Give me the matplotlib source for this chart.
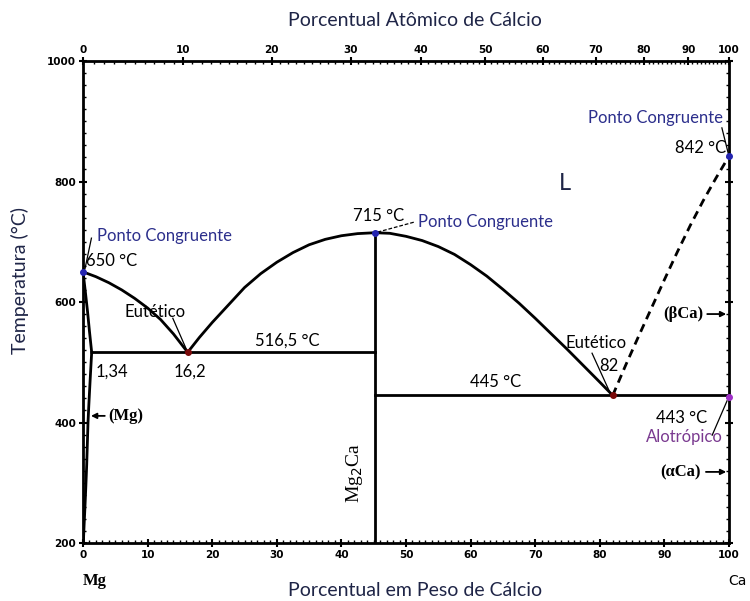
import numpy as np
import matplotlib.pyplot as plt
from matplotlib.ticker import MultipleLocator, FixedLocator

# Mg-Ca phase diagram (weight % Ca vs temperature)
liq_left_x = [0, 2, 4, 6, 8, 10, 12, 14, 16.2]
liq_left_t = [650, 642, 632, 620, 606, 590, 571, 547, 516.5]
liq_mid_x = [16.2, 18, 20, 22.5, 25, 27.5, 30, 32.5, 35, 37.5, 40, 42.5, 45.2]
liq_mid_t = [516.5, 541, 566, 595, 624, 647, 666, 682, 695, 704, 710, 713.5, 715]
liq_right_x = [45.2, 47.5, 50, 52.5, 55, 57.5, 60, 62.5, 65, 67.5, 70, 72.5, 75, 77.5, 80, 82]
liq_right_t = [715, 714, 709, 702, 692, 679, 662, 643, 621, 598, 573, 547, 521, 494, 467, 445]
liq_ca_x = [82, 84, 86, 88, 90, 92, 94, 96, 98, 100]
liq_ca_t = [445, 495, 543, 590, 637, 683, 727, 768, 806, 842]
solidus_x = [0, 0.35, 0.7, 1.0, 1.34]
solidus_t = [650, 618, 584, 551, 516.5]
solvus_x = [1.34, 1.15, 1.0, 0.88, 0.77, 0.67, 0.57, 0.44, 0.3, 0.16, 0.05]
solvus_t = [516.5, 480, 450, 425, 400, 365, 330, 295, 260, 228, 200]

mg2ca_x = 45.2
t_eut1 = 516.5
t_eut2 = 445

key_pts_blue = ([0, 45.2, 100], [650, 715, 842])
key_pts_red = ([16.2, 82], [516.5, 445])
key_pt_purple = ([100], [443])

top_ticks = list(range(0, 101, 10))

navy = '#1f2547'
blue_txt = '#2c2f8c'
purple = '#7a3a90'
M_CA, M_MG = 40.08, 24.305


def w2a(w):
    w = np.clip(np.asarray(w, dtype=float), 0, 100)
    n_ca = w / M_CA
    n_mg = (100 - w) / M_MG
    return 100 * n_ca / (n_ca + n_mg)


def a2w(a):
    a = np.clip(np.asarray(a, dtype=float), 0, 100)
    m_ca = a * M_CA
    m_mg = (100 - a) * M_MG
    return 100 * m_ca / (m_ca + m_mg)


fig = plt.figure(figsize=(7.5, 6.01), dpi=100)
ax = fig.add_axes([0.1107, 0.0965, 0.8613, 0.802])
ax.set_xlim(0, 100)
ax.set_ylim(200, 1000)

lw = 2.0
ax.plot(liq_left_x, liq_left_t, 'k-', lw=lw)
ax.plot(liq_mid_x, liq_mid_t, 'k-', lw=lw)
ax.plot(liq_right_x, liq_right_t, 'k-', lw=lw)
ax.plot(liq_ca_x, liq_ca_t, 'k--', lw=lw, dashes=(3, 2))
ax.plot(solidus_x, solidus_t, 'k-', lw=lw)
ax.plot(solvus_x, solvus_t, 'k-', lw=lw)
ax.plot([solidus_x[-1], mg2ca_x], [t_eut1, t_eut1], 'k-', lw=lw)
ax.plot([mg2ca_x, 100], [t_eut2, t_eut2], 'k-', lw=lw)
ax.plot([mg2ca_x, mg2ca_x], [200, 715], 'k-', lw=lw)

ax.plot(*key_pts_blue, 'o', color='#2424b0', ms=4, zorder=5, clip_on=False)
ax.plot(*key_pts_red, 'o', color='#7a0a0a', ms=4, zorder=5)
ax.plot(*key_pt_purple, 'o', color='#a030c8', ms=4, zorder=5, clip_on=False)

for s in ax.spines.values():
    s.set_linewidth(2)

# axis ticks
ax.xaxis.set_major_locator(MultipleLocator(10))
ax.xaxis.set_minor_locator(MultipleLocator(1))
ax.yaxis.set_major_locator(MultipleLocator(200))
ax.yaxis.set_minor_locator(MultipleLocator(20))
ax.tick_params(axis='both', which='major', direction='inout', length=6, width=1.5,
               labelsize=7.5, pad=2)
ax.tick_params(axis='both', which='minor', direction='in', length=2.5, width=1)
ax.tick_params(axis='y', which='both', right=True)
for lab in ax.get_xticklabels() + ax.get_yticklabels():
    lab.set_fontweight('bold')

top = ax.secondary_xaxis('top', functions=(w2a, a2w))
top.xaxis.set_major_locator(FixedLocator(top_ticks))
top.xaxis.set_minor_locator(FixedLocator(list(range(0, 101))))
top.set_xticklabels([str(t) for t in top_ticks], fontweight='bold')
top.tick_params(which='major', direction='inout', length=6, width=1.5, labelsize=7.5, pad=1)
top.tick_params(which='minor', direction='in', length=2.5, width=1)

sans = 'Lato'
fig.text(0.553, 0.966, 'Porcentual Atômico de Cálcio', family=sans, fontsize=14,
         color=navy, ha='center', va='center')
fig.text(0.553, 0.018, 'Porcentual em Peso de Cálcio', family=sans, fontsize=14,
         color=navy, ha='center', va='center')
fig.text(0.027, 0.534, 'Temperatura (°C)', family=sans, fontsize=14, color=navy,
         ha='center', va='center', rotation=90)

fs = 12
def note(x, y, s, color='black', ha='center', **kw):
    ax.text(x, y, s, family=sans, fontsize=fs, color=color, ha=ha, va='center', **kw)

note(2.2, 709, 'Ponto Congruente', blue_txt, ha='left')
note(0.5, 668, '650 °C', ha='left')
note(11.1, 583, 'Eutético')
note(2.0, 485, '1,34', ha='left')
note(16.6, 484, '16,2')
note(31.6, 536, '516,5 °C')
note(45.7, 742, '715 °C')
note(51.9, 733, 'Ponto Congruente', blue_txt, ha='left')
note(63.8, 468, '445 °C')
note(79.4, 532, 'Eutético')
note(81.4, 494, '82')
note(99.1, 906, 'Ponto Congruente', blue_txt, ha='right')
note(99.5, 856, '842 °C', ha='right')
note(96.6, 407, '443 °C', ha='right')
note(99.1, 376, 'Alotrópico', purple, ha='right')
ax.text(74.6, 797, 'L', family=sans, fontsize=17, color=navy, ha='center', va='center')

# leader lines
thin = dict(color='black', lw=0.9)
ax.plot([1.3, 0.3], [706, 655], **thin)
ax.plot([13.9, 16.1], [573, 519], **thin)
ax.plot([45.6, 51.4], [716, 733], ls='--', dashes=(3, 1.5), **thin)
ax.plot([78.8, 81.6], [515, 449], **thin)
ax.plot([98.9, 99.9], [889, 846], **thin)
ax.plot([97.4, 99.7], [379, 436], **thin)

# phase region labels
serif = 'Liberation Serif'
ax.text(3.9, 411, '(Mg)', family=serif, fontsize=12, fontweight='bold', ha='left', va='center')
ax.annotate('', xy=(0.8, 411), xytext=(3.8, 411),
            arrowprops=dict(arrowstyle='-|>', color='black', lw=1.3, mutation_scale=8))
ax.text(96.0, 580, '(βCa)', family=serif, fontsize=12, fontweight='bold', ha='right', va='center')
ax.annotate('', xy=(100, 580), xytext=(96.2, 580),
            arrowprops=dict(arrowstyle='-|>', color='black', lw=1.3, mutation_scale=8))
ax.text(95.7, 318, '(αCa)', family=serif, fontsize=12, fontweight='bold', ha='right', va='center')
ax.annotate('', xy=(100, 318), xytext=(96.0, 318),
            arrowprops=dict(arrowstyle='-|>', color='black', lw=1.3, mutation_scale=8))
ax.text(42.1, 316, r'Mg$_2$Ca', family=serif, fontsize=14, ha='center', va='center',
        rotation=90)
ax.text(1.8, 137, 'Mg', family=serif, fontsize=12, fontweight='bold', ha='center',
        va='center', clip_on=False)
ax.text(101.3, 137, 'Ca', family='DejaVu Sans', fontsize=10, ha='center', va='center',
        clip_on=False)

fig.savefig('out.png', dpi=100)
